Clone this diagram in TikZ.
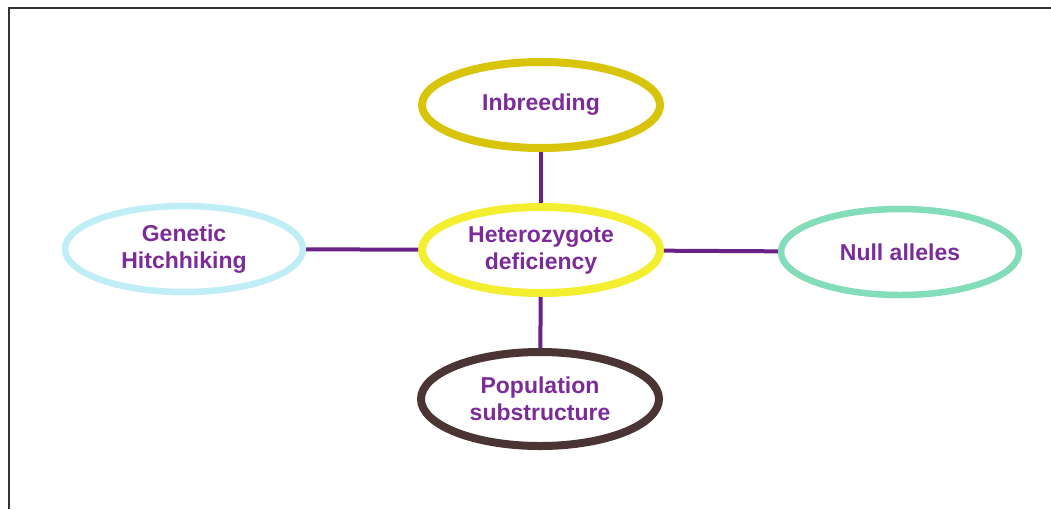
\documentclass[tikz,border=0pt]{standalone}
\usepackage{fontspec}
\setmainfont{Liberation Sans}
\usetikzlibrary{shapes.geometric}

\definecolor{inbgold}{HTML}{D8C40A}
\definecolor{hetyellow}{HTML}{F4EE30}
\definecolor{hitchcyan}{HTML}{C0EEF6}
\definecolor{nullmint}{HTML}{82DDB8}
\definecolor{popbrown}{HTML}{4B3434}
\definecolor{linkpurple}{HTML}{6B2287}
\definecolor{textpurple}{HTML}{7B2C99}

\begin{document}
\begin{tikzpicture}[x=1pt,y=-1pt]
\tikzset{
    cause/.style={
        ellipse, draw=#1, line width=8pt, fill=white,
        minimum width=238pt, minimum height=86pt,
        align=center, text=textpurple,
        font=\fontsize{23}{27}\selectfont\bfseries
    },
    link/.style={linkpurple, line width=4pt}
}
\useasboundingbox (0,0) rectangle (1051,509);
\fill[white] (0,0) rectangle (1051,509);
\draw[line width=2pt, black!80] (9,509) -- (9,8) -- (1051,8);

\node[cause=hetyellow] (het) at (541,250) {Heterozygote\\deficiency};
\node[cause=inbgold] (inb) at (541,105) {Inbreeding};
\node[cause=hitchcyan, line width=6.5pt] (hitch) at (184,249) {Genetic\\Hitchhiking};
\node[cause=nullmint, line width=6.5pt] (null) at (900,252) {Null alleles};
\node[cause=popbrown, minimum height=94pt] (pop) at (540,399) {Population\\substructure};

\draw[link] (inb) -- (het);
\draw[link] (het) -- (pop);
\draw[link] (hitch) -- (het);
\draw[link] (het) -- (null);

\end{tikzpicture}
\end{document}
